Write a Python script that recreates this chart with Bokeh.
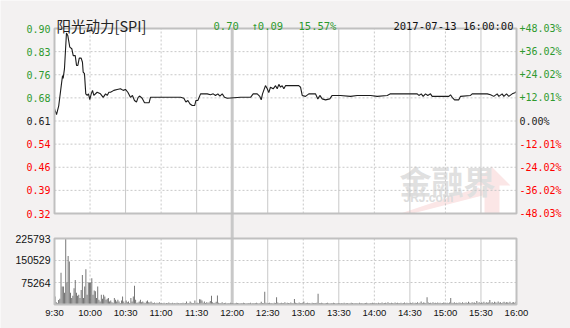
from bokeh.plotting import figure
from bokeh.models import Range1d, Label
from bokeh.embed import file_html
from bokeh.resources import INLINE

# ---------------- data ----------------
title = "阳光动力[SPI]"
last_price = "0.70"
change = "↑0.09"
change_pct = "15.57%"
stamp = "2017-07-13 16:00:00"

prev_close = 0.61
pct_ticks = [48.03, 36.02, 24.02, 12.01, 0.00, -12.01, -24.02, -36.02, -48.03]
price_labels = ["0.90", "0.83", "0.76", "0.68", "0.61", "0.54", "0.46", "0.39", "0.32"]
pct_labels = ["+48.03%", "+36.02%", "+24.02%", "+12.01%", "0.00%",
              "-12.01%", "-24.02%", "-36.02%", "-48.03%"]

time_ticks = [0, 30, 60, 90, 120, 150, 180, 210, 240, 270, 300, 330, 360, 390]
time_labels = ["9:30", "10:00", "10:30", "11:00", "11:30", "12:00", "12:30",
               "13:00", "13:30", "14:00", "14:30", "15:00", "15:30", "16:00"]
dashed_times = [30, 90, 210, 270, 330]
solid_times = [60, 120, 180, 240, 300, 360]
noon = 150

# minutes after 9:30 and price
price_min = [0, 1.7, 3.6, 5.7, 6.8, 7.3, 8.4, 10.1, 11.2, 12.9, 14.6, 15.8, 17.5, 18.6,
             19.7, 20.9, 22.5, 23.6, 24.2, 25.3, 26.4, 27.6, 28.7, 29.8, 31.0, 32.1,
             33.2, 36.0, 38.8, 41.1, 43.1, 44.5, 45.9, 47.3, 50.1, 52.9, 55.7, 58.0,
             59.9, 61.9, 64.1, 65.8, 67.5, 69.2, 70.6, 72.0, 74.0, 76.0, 79.9, 81.0,
             106.4, 109.2, 110.9, 112.6, 114.4, 116.3, 118.3, 119.4, 121.0, 123.3,
             128.9, 131.7, 134.0, 135.9, 137.9, 139.6, 141.6, 143.5, 145.8, 157.0,
             165.5, 167.7, 171.1, 173.3, 174.5, 175.6, 178.1, 179.6, 180.9, 182.3,
             184.6, 186.6, 188.0, 189.4, 190.8, 192.2, 193.6, 195.0, 206.2, 207.7,
             209.1, 211.9, 214.7, 220.3, 222.3, 224.0, 226.0, 228.8, 232.4, 234.4,
             241.4, 249.9, 255.5, 266.8, 272.4, 280.9, 283.6, 306.2, 307.6, 309.6,
             311.2, 313.2, 315.1, 317.4, 318.8, 332.9, 334.3, 335.7, 337.7, 341.3,
             342.7, 351.2, 352.6, 365.3, 368.1, 370.8, 373.7, 375.1, 377.9, 379.3,
             381.6, 383.5, 386.4, 389.2, 390]
price_val = [0.649, 0.630, 0.659, 0.722, 0.754, 0.745, 0.775, 0.889, 0.881, 0.844, 0.839,
             0.817, 0.817, 0.786, 0.786, 0.809, 0.809, 0.796, 0.765, 0.760, 0.696, 0.691,
             0.696, 0.678, 0.696, 0.707, 0.691, 0.701, 0.696, 0.685, 0.696, 0.691, 0.701,
             0.701, 0.707, 0.710, 0.712, 0.707, 0.710, 0.701, 0.685, 0.691, 0.675, 0.670,
             0.685, 0.689, 0.682, 0.668, 0.668, 0.685,
             0.685, 0.682, 0.670, 0.675, 0.664, 0.659, 0.659, 0.675, 0.675, 0.696,
             0.696, 0.693, 0.696, 0.691, 0.696, 0.689, 0.696, 0.685, 0.682, 0.685,
             0.685, 0.696, 0.696, 0.688, 0.677, 0.696, 0.722, 0.712, 0.700, 0.717,
             0.712, 0.722, 0.712, 0.726, 0.717, 0.722, 0.712, 0.722, 0.722, 0.717,
             0.691, 0.688, 0.696, 0.696, 0.680, 0.691, 0.680, 0.677, 0.680, 0.691,
             0.691, 0.688, 0.691, 0.691, 0.688, 0.691, 0.696, 0.696, 0.691, 0.696,
             0.688, 0.696, 0.691, 0.696, 0.688, 0.688, 0.693, 0.685, 0.677, 0.677,
             0.688, 0.691, 0.696, 0.696, 0.693, 0.688, 0.696, 0.688, 0.696, 0.688,
             0.696, 0.688, 0.696, 0.700, 0.705]

vol_ticks = [75264, 150529, 225793]
vol_labels = ["75264", "150529", "225793"]
# per-minute volume, thousands of shares
vol_k = [
    27, 8, 4, 15, 20, 109, 62, 62, 40, 225.793, 75, 166, 147, 40, 22, 30, 56, 84, 40, 30, 33, 22, 50, 101, 22, 62, 121, 33, 75, 75,
    75, 90, 33, 48, 45, 22, 62, 16, 10, 33, 20, 33, 27, 16, 20, 22, 10, 14, 8, 6, 22, 16, 10, 16, 10, 5, 14, 27, 10, 5,
    14, 8, 10, 5, 22, 10, 27, 64, 16, 6, 7, 10, 16, 8, 10, 7, 5, 10, 14, 8, 7, 10, 6, 5, 7, 4, 6, 5, 8, 4,
    5, 4, 6, 3, 5, 4, 7, 5, 4, 6, 3, 5, 4, 6, 5, 3, 4, 5, 6, 4, 5, 10, 4, 5, 10, 6, 4, 5, 14, 5,
    6, 4, 18, 17, 14, 6, 10, 5, 8, 6, 7, 12, 30, 8, 5, 6, 9, 31, 6, 4, 5, 8, 4, 5, 6, 3, 5, 4, 6, 4,
    5, 3, 4, 6, 5, 4, 3, 5, 4, 6, 5, 3, 4, 5, 4, 6, 3, 5, 4, 5, 6, 4, 3, 5, 9, 5, 4, 44, 6, 4,
    5, 6, 4, 5, 3, 6, 5, 25, 7, 4, 5, 6, 4, 5, 8, 4, 6, 5, 4, 7, 5, 4, 19, 6, 5, 4, 7, 5, 4, 6,
    10, 4, 5, 6, 4, 5, 3, 6, 5, 4, 5, 6, 37, 5, 4, 6, 5, 3, 4, 5, 6, 4, 3, 5, 4, 6, 5, 3, 4, 5,
    4, 3, 5, 4, 6, 3, 4, 5, 3, 4, 6, 5, 3, 4, 5, 4, 3, 6, 4, 5, 3, 4, 5, 6, 4, 3, 5, 4, 6, 5,
    4, 5, 3, 6, 4, 5, 7, 4, 5, 6, 4, 8, 5, 4, 6, 5, 4, 7, 5, 6, 4, 5, 6, 4, 5, 7, 4, 6, 5, 4,
    6, 5, 7, 4, 6, 5, 8, 4, 6, 10, 5, 7, 6, 5, 25, 7, 5, 6, 4, 8, 5, 6, 4, 7, 5, 6, 4, 5, 7, 6,
    5, 6, 4, 7, 22, 6, 5, 8, 4, 6, 5, 7, 6, 4, 8, 5, 6, 7, 5, 9, 6, 5, 8, 6, 7, 5, 12, 6, 8, 5,
    7, 6, 9, 5, 8, 6, 7, 15, 6, 8, 5, 9, 7, 6, 10, 6, 8, 5, 7, 9, 6, 8, 7, 6, 9, 5, 7, 8, 6, 9,
]

# ---------------- layout (pixels) ----------------
W, H = 570, 328
L, R = 54, 516          # panel left / right edge
PT, PB = 28, 213        # price panel top / bottom
VT, VB = 238, 304       # volume panel top / bottom

BG = "#f3f1f1"
GRID = "#c8c8c8"
EDGE = "#c0c0c0"
GREEN = "#2f9a2f"
RED = "#ff0000"
DARK = "#222222"
MONO = "DejaVu Sans Mono"

tick_prices = [prev_close * (1 + p / 100.0) for p in pct_ticks]
ymin, ymax = tick_prices[-1], tick_prices[0]
t0, t1 = time_ticks[0], time_ticks[-1]
vmax = vol_ticks[-1]

kx = (R - L) / (t1 - t0)
ky = (PB - PT) / (ymax - ymin)
kv = (VB - VT) / vmax

def xd(px):
    return t0 + (px - L) / kx

def yd(px):
    return ymax + (PT - px) / ky

def vd(px):
    return (VB - px) / kv

p = figure(width=W, height=H, output_backend="svg", toolbar_location=None,
           x_range=Range1d(xd(0), xd(W)), y_range=Range1d(yd(H), yd(0)),
           x_axis_location=None, y_axis_location=None,
           min_border=0, min_border_left=0, min_border_right=0,
           min_border_top=0, min_border_bottom=0,
           background_fill_color=BG, border_fill_color=BG, outline_line_color=None)
p.extra_y_ranges = {"vol": Range1d(vd(H), vd(0))}
p.grid.visible = False

# panel backgrounds
p.quad(left=t0, right=t1, bottom=ymin, top=ymax, fill_color="white", line_color=None)
p.quad(left=t0, right=t1, bottom=0, top=vmax, fill_color="white", line_color=None,
       y_range_name="vol")

# watermark (logo arrow + text)
PINK = "#fbe6e6"
p.patch([xd(400), xd(478), xd(486), xd(412)], [yd(213), yd(187), yd(194), yd(213)],
        fill_color=PINK, line_color=None)
p.patch([xd(472), xd(491), xd(510), xd(499), xd(499), xd(484), xd(484)],
        [yd(185), yd(166), yd(185), yd(185), yd(213), yd(213), yd(185)],
        fill_color=PINK, line_color=None)
p.text(x=[xd(399)], y=[yd(179)], text=["金融界"], text_font={"value": "Noto Sans CJK SC"},
       text_font_style="bold", text_font_size="32px", text_color="#e0e0e0",
       text_baseline="alphabetic")
p.text(x=[xd(403)], y=[yd(197)], text=["JRJ.com"], text_font={"value": "Liberation Sans"},
       text_font_style="bold", text_font_size="12px", text_color="#dcdcdc",
       text_baseline="alphabetic")

# grid lines - price panel
inner = tick_prices[1:-1]
p.segment(x0=[t0] * len(inner), x1=[t1] * len(inner), y0=inner, y1=inner,
          line_color=GRID, line_dash="2 2", line_width=1)
p.segment(x0=dashed_times, x1=dashed_times, y0=[ymin] * len(dashed_times),
          y1=[ymax] * len(dashed_times), line_color=GRID, line_dash="2 2", line_width=1)
p.segment(x0=solid_times, x1=solid_times, y0=[ymin] * len(solid_times),
          y1=[ymax] * len(solid_times), line_color=GRID, line_width=1)
# grid lines - volume panel
vin = vol_ticks[:-1]
p.segment(x0=[t0] * len(vin), x1=[t1] * len(vin), y0=vin, y1=vin,
          line_color=GRID, line_dash="2 2", line_width=1, y_range_name="vol")
p.segment(x0=dashed_times, x1=dashed_times, y0=[0] * len(dashed_times),
          y1=[vmax] * len(dashed_times), line_color=GRID, line_dash="2 2", line_width=1,
          y_range_name="vol")
p.segment(x0=solid_times, x1=solid_times, y0=[0] * len(solid_times),
          y1=[vmax] * len(solid_times), line_color=GRID, line_width=1, y_range_name="vol")
# noon marker through both panels
p.segment(x0=[noon], x1=[noon], y0=[yd(VB)], y1=[ymax], line_color=GRID, line_width=3)

# volume bars
vx = [t0 + i + 0.5 for i in range(len(vol_k))]
vtop = [v * 1000 for v in vol_k]
p.vbar(x=vx, top=vtop, bottom=0, width=0.75, fill_color="#666666", line_color=None,
       y_range_name="vol")

# price line
p.line(price_min, price_val, line_color="#1c1c1c", line_width=1.1)

# panel borders
p.quad(left=t0, right=t1, bottom=ymin, top=ymax, fill_color=None, line_color=EDGE,
       line_width=2)
p.quad(left=t0, right=t1, bottom=0, top=vmax, fill_color=None, line_color=EDGE,
       line_width=2, y_range_name="vol")

# price tick labels
for tp, lab, pl, pc in zip(tick_prices, price_labels, pct_labels, pct_ticks):
    col = GREEN if pc > 0 else (RED if pc < 0 else DARK)
    p.add_layout(Label(x=t0, y=tp, x_offset=-4, text=lab, text_align="right",
                       text_baseline="middle", text_font=MONO, text_font_size="10px",
                       text_color=col))
    p.add_layout(Label(x=t1, y=tp, x_offset=3, text=pl, text_align="left",
                       text_baseline="middle", text_font=MONO, text_font_size="10px",
                       text_color=col))

# volume tick labels
for vt, vl in zip(vol_ticks, vol_labels):
    p.add_layout(Label(x=t0, y=vt, x_offset=-4, text=vl, text_align="right",
                       text_baseline="middle", text_font="Liberation Sans",
                       text_font_size="10.5px", text_color="#111111", y_range_name="vol"))

# time labels
for tt, tl in zip(time_ticks, time_labels):
    p.add_layout(Label(x=tt, y=yd(312), text=tl, text_align="center",
                       text_baseline="middle", text_font="Liberation Sans",
                       text_font_size="9.5px", text_color="#111111"))

# header texts
p.add_layout(Label(x=xd(56), y=yd(25), text=title, text_font="Noto Sans CJK SC",
                   text_font_size="14.5px", text_color=DARK, text_baseline="alphabetic"))
for txt, px in [(last_price, 213), (change, 251), (change_pct, 298)]:
    p.add_layout(Label(x=xd(px), y=yd(25), text=txt, text_font=MONO,
                       text_font_size="10.5px", text_color=GREEN,
                       text_baseline="alphabetic"))
p.add_layout(Label(x=xd(513), y=yd(25), text=stamp, text_font=MONO,
                   text_font_size="10.5px", text_color="#111111", text_align="right",
                   text_baseline="alphabetic"))

open("out.html", "w").write(file_html(p, INLINE))
